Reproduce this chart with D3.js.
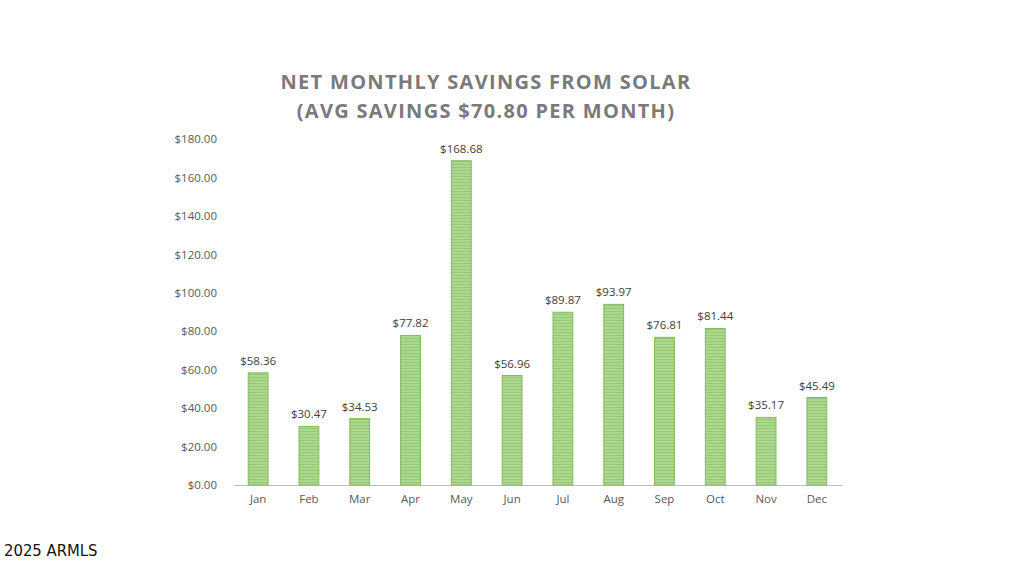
<!DOCTYPE html>
<html>
<head>
  <style>
    body { margin: 0; padding: 0; background: #fff; }
    svg { display: block; }
  </style>
</head>
<body>
  <div id="chart"></div>
  <script src="https://cdnjs.cloudflare.com/ajax/libs/d3/7.8.5/d3.min.js"></script>
  <script>
    const months = ['Jan', 'Feb', 'Mar', 'Apr', 'May', 'Jun', 'Jul', 'Aug', 'Sep', 'Oct', 'Nov', 'Dec'];
    const savings = [58.36, 30.47, 34.53, 77.82, 168.68, 56.96, 89.87, 93.97, 76.81, 81.44, 35.17, 45.49];
    const yTicks = [0, 20, 40, 60, 80, 100, 120, 140, 160, 180];
    const titleLines = ['NET MONTHLY SAVINGS FROM SOLAR', '(AVG SAVINGS $70.80 PER MONTH)'];

    const width = 1024, height = 576;
    const margin = { top: 139, right: 182, bottom: 91, left: 233 };

    const svg = d3.select('#chart')
      .append('svg')
      .attr('width', width)
      .attr('height', height);

    // striped fill like the original
    const defs = svg.append('defs');
    const pat = defs.append('pattern')
      .attr('id', 'stripes')
      .attr('patternUnits', 'userSpaceOnUse')
      .attr('width', 4)
      .attr('height', 3);
    pat.append('rect').attr('width', 4).attr('height', 3).attr('fill', '#add68f');
    pat.append('rect').attr('y', 2).attr('width', 4).attr('height', 1).attr('fill', '#96c977');

    const x = d3.scaleBand()
      .domain(months)
      .range([margin.left, width - margin.right])
      .paddingInner(0.61)
      .paddingOuter(0.3);

    const y = d3.scaleLinear()
      .domain([0, 180])
      .range([height - margin.bottom, margin.top]);

    // title
    svg.append('g')
      .selectAll('text')
      .data(titleLines)
      .enter()
      .append('text')
      .attr('x', 486)
      .attr('y', (d, i) => 89 + i * 29)
      .attr('text-anchor', 'middle')
      .attr('font-family', '"Open Sans", sans-serif')
      .attr('font-weight', 700)
      .attr('font-size', '20px')
      .attr('letter-spacing', '1.3px')
      .attr('fill', '#7a7a7a')
      .text(d => d);

    // y axis labels (no line)
    const yAxis = svg.append('g')
      .attr('transform', `translate(${margin.left - 13},0)`)
      .call(d3.axisLeft(y).tickValues(yTicks).tickSize(0).tickFormat(d => '$' + d3.format('.2f')(d)));
    yAxis.select('.domain').remove();
    yAxis.selectAll('text')
      .attr('font-family', '"Open Sans", sans-serif')
      .attr('font-size', '11.5px')
      .attr('fill', '#595959');

    // x axis
    const xAxis = svg.append('g')
      .attr('transform', `translate(0,${height - margin.bottom})`)
      .call(d3.axisBottom(x).tickSize(0).tickPadding(10));
    xAxis.select('.domain').attr('stroke', '#bfbfbf').attr('stroke-width', 1.2);
    xAxis.selectAll('text')
      .attr('font-family', '"Open Sans", sans-serif')
      .attr('font-size', '11.5px')
      .attr('fill', '#595959');

    // bars
    svg.append('g')
      .selectAll('rect')
      .data(savings)
      .enter()
      .append('rect')
      .attr('x', (d, i) => x(months[i]))
      .attr('y', d => y(d))
      .attr('width', x.bandwidth())
      .attr('height', d => y(0) - y(d))
      .attr('fill', 'url(#stripes)')
      .attr('stroke', '#80bb5c')
      .attr('stroke-width', 1);

    // value labels
    svg.append('g')
      .selectAll('text')
      .data(savings)
      .enter()
      .append('text')
      .attr('x', (d, i) => x(months[i]) + x.bandwidth() / 2)
      .attr('y', d => y(d) - 8)
      .attr('text-anchor', 'middle')
      .attr('font-family', '"Open Sans", sans-serif')
      .attr('font-size', '11.5px')
      .attr('fill', '#404040')
      .text(d => '$' + d3.format('.2f')(d));

    // watermark
    svg.append('text')
      .attr('x', 4)
      .attr('y', 556)
      .attr('font-family', '"Liberation Sans Narrow", "DejaVu Sans Condensed", sans-serif')
      .attr('font-size', '16.5px')
      .attr('fill', '#111')
      .text('2025 ARMLS');
  </script>
</body>
</html>
